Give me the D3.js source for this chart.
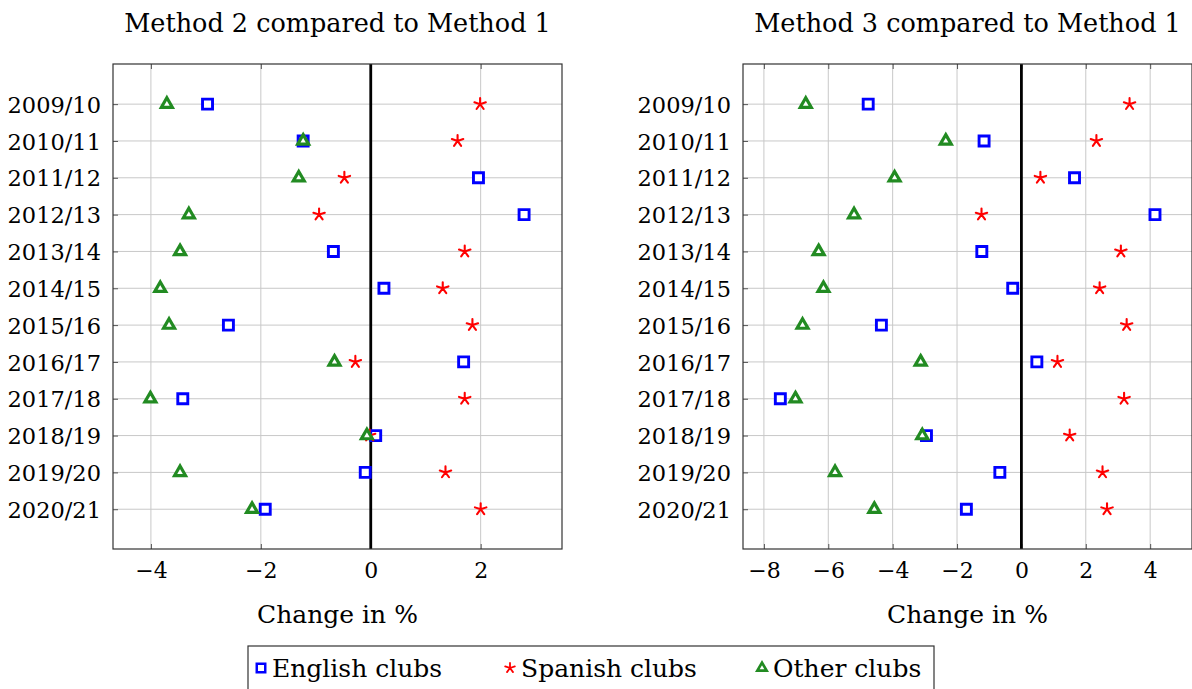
<!DOCTYPE html>
<html>
<head>
<meta charset="utf-8">
<script src="https://cdn.jsdelivr.net/npm/d3@7"></script>
<style>
  body { margin: 0; background: #fff; }
  text { font-family: "DejaVu Serif", serif; fill: #000; }
</style>
</head>
<body>
<svg id="contenedor"></svg>
<script>
// temporadas (eje y)
let temporadas = ["2009/10", "2010/11", "2011/12", "2012/13", "2013/14", "2014/15",
  "2015/16", "2016/17", "2017/18", "2018/19", "2019/20", "2020/21"];

// Method 2 vs Method 1 (cambio en %)
let m2Ingleses = [-2.97, -1.23, 1.96, 2.79, -0.68, 0.24, -2.59, 1.69, -3.42, 0.09, -0.10, -1.92];
let m2Espanoles = [1.99, 1.58, -0.48, -0.94, 1.71, 1.31, 1.85, -0.28, 1.71, -0.02, 1.36, 2.00];
let m2Otros = [-3.71, -1.23, -1.31, -3.31, -3.47, -3.83, -3.67, -0.66, -4.01, -0.07, -3.47, -2.16];

// Method 3 vs Method 1 (cambio en %)
let m3Ingleses = [-4.76, -1.16, 1.65, 4.15, -1.23, -0.27, -4.35, 0.48, -7.49, -2.95, -0.67, -1.71];
let m3Espanoles = [3.36, 2.33, 0.59, -1.24, 3.09, 2.43, 3.27, 1.12, 3.19, 1.50, 2.52, 2.66];
let m3Otros = [-6.70, -2.35, -3.94, -5.20, -6.30, -6.15, -6.80, -3.13, -7.02, -3.08, -5.79, -4.57];

// ticks del eje x
let ticksM2 = [-4, -2, 0, 2];
let ticksM3 = [-8, -6, -4, -2, 0, 2, 4];

// series y leyenda
let series = ["English clubs", "Spanish clubs", "Other clubs"];

// configuraciones del area para graficar
function getContenedorChartConfig() {
  let width = 1192;
  let height = 689;
  let container = d3.select("#contenedor");
  container.attr("width", width).attr("height", height);
  let top = 64;
  let bottom = 549;
  return { width, height, top, bottom, container };
} // fin getContenedorChartConfig

// escalas de un panel
function getScales(dominioX, left, right, config) {
  let xScale = d3.scaleLinear().domain(dominioX).range([left, right]);
  let yScale = d3.scaleLinear().domain([-1.09, 12.08]).range([config.top, config.bottom]);
  return { xScale, yScale };
} // fin getScales

// camino de la marca "star" de pgfplots (5 rayos)
function starPath(r) {
  let p = d3.path();
  for (let k = 0; k < 5; k++) {
    let a = (-90 + 72 * k) * Math.PI / 180;
    p.moveTo(0, 0);
    p.lineTo(r * Math.cos(a), r * Math.sin(a));
  }
  return p.toString();
}

// dibujar una marca segun la serie
function dibujarMarca(g, tipo) {
  if (tipo === 0) {
    g.append("path")
      .attr("d", d3.symbol(d3.symbolSquare, 100)())
      .attr("fill", "#fff")
      .attr("stroke", "#0000ff")
      .attr("stroke-width", 2.9);
  } else if (tipo === 1) {
    g.append("path")
      .attr("d", starPath(6))
      .attr("fill", "none")
      .attr("stroke", "#ff0000")
      .attr("stroke-width", 2.1)
      .attr("stroke-linecap", "round");
  } else {
    g.append("path")
      .attr("d", d3.symbol(d3.symbolTriangle, 52)())
      .attr("fill", "#fff")
      .attr("stroke", "#228b22")
      .attr("stroke-width", 3.2)
      .attr("stroke-linejoin", "miter");
  }
}

// dibujar un panel completo
function dibujarPanel(titulo, datos, ticks, scales, config) {
  let { xScale, yScale } = scales;
  let { container, top, bottom } = config;
  let [left, right] = xScale.range();
  let panel = container.append("g");

  // rejilla vertical
  panel.selectAll(".gridx").data(ticks).enter()
    .append("line")
    .attr("x1", (d) => xScale(d)).attr("x2", (d) => xScale(d))
    .attr("y1", top).attr("y2", bottom)
    .attr("stroke", "#c8c8c8").attr("stroke-width", 1);

  // rejilla horizontal
  panel.selectAll(".gridy").data(temporadas).enter()
    .append("line")
    .attr("x1", left).attr("x2", right)
    .attr("y1", (d, i) => yScale(i)).attr("y2", (d, i) => yScale(i))
    .attr("stroke", "#c8c8c8").attr("stroke-width", 1);

  // ticks (hacia dentro, arriba y abajo)
  let axisBottom = d3.axisBottom(xScale).tickValues(ticks).tickSize(-5)
    .tickFormat((d) => (d < 0 ? "\u2212" + Math.abs(d) : d));
  let gx = panel.append("g").attr("transform", `translate(0,${bottom})`).call(axisBottom);
  gx.select(".domain").remove();
  gx.selectAll("line").attr("stroke", "#555");
  gx.selectAll("text")
    .attr("y", 29).attr("dy", 0)
    .style("font-family", "DejaVu Serif").style("font-size", "22px");

  let gxTop = panel.append("g").attr("transform", `translate(0,${top})`)
    .call(d3.axisTop(xScale).tickValues(ticks).tickSize(-5).tickFormat(""));
  gxTop.select(".domain").remove();
  gxTop.selectAll("line").attr("stroke", "#555");

  // etiquetas del eje y
  let axisLeft = d3.axisLeft(yScale).tickValues(d3.range(temporadas.length))
    .tickSize(-5).tickFormat((i) => temporadas[i]);
  let gy = panel.append("g").attr("transform", `translate(${left},0)`).call(axisLeft);
  gy.select(".domain").remove();
  gy.selectAll("line").attr("stroke", "#555");
  gy.selectAll("text")
    .attr("x", -12).attr("dy", "0.36em")
    .style("font-family", "DejaVu Serif").style("font-size", "22.5px");

  // linea de cero
  panel.append("line")
    .attr("x1", xScale(0)).attr("x2", xScale(0))
    .attr("y1", top).attr("y2", bottom)
    .attr("stroke", "#000").attr("stroke-width", 2.8);

  // marco
  panel.append("rect")
    .attr("x", left).attr("y", top)
    .attr("width", right - left).attr("height", bottom - top)
    .attr("fill", "none").attr("stroke", "#333").attr("stroke-width", 1.2);

  // marcas de las tres series
  datos.forEach((serie, s) => {
    serie.forEach((v, i) => {
      let g = panel.append("g")
        .attr("transform", `translate(${xScale(v)},${yScale(i)})`);
      dibujarMarca(g, s);
    });
  });

  // titulo
  panel.append("text")
    .attr("x", (left + right) / 2).attr("y", 32)
    .attr("text-anchor", "middle")
    .style("font-size", "25.5px")
    .text(titulo);

  // etiqueta del eje x
  panel.append("text")
    .attr("x", (left + right) / 2).attr("y", 623)
    .attr("text-anchor", "middle")
    .style("font-size", "25px")
    .text("Change in %");
} // fin dibujarPanel

// dibujar leyenda
function dibujarLeyenda(config) {
  let { container } = config;
  let leyenda = container.append("g");
  leyenda.append("rect")
    .attr("x", 248).attr("y", 646).attr("width", 686).attr("height", 60)
    .attr("fill", "#fff").attr("stroke", "#333").attr("stroke-width", 1.2);

  let posiciones = [261, 510, 762];
  series.forEach((nombre, s) => {
    let g = leyenda.append("g").attr("transform", `translate(${posiciones[s]},668)`);
    let m = g.append("g").attr("transform", "scale(0.85)");
    dibujarMarca(m, s);
    leyenda.append("text")
      .attr("x", posiciones[s] + 11).attr("y", 677)
      .style("font-size", "25px")
      .text(nombre);
  });
} // fin dibujarLeyenda

function dibujarChart() {
  let config = getContenedorChartConfig();
  let scalesM2 = getScales([-4.69, 3.48], 113, 562, config);
  let scalesM3 = getScales([-8.65, 5.3], 743, 1192, config);
  dibujarPanel("Method 2 compared to Method 1", [m2Ingleses, m2Espanoles, m2Otros], ticksM2, scalesM2, config);
  dibujarPanel("Method 3 compared to Method 1", [m3Ingleses, m3Espanoles, m3Otros], ticksM3, scalesM3, config);
  dibujarLeyenda(config);
} // fin dibujarChart

dibujarChart();
</script>
</body>
</html>
